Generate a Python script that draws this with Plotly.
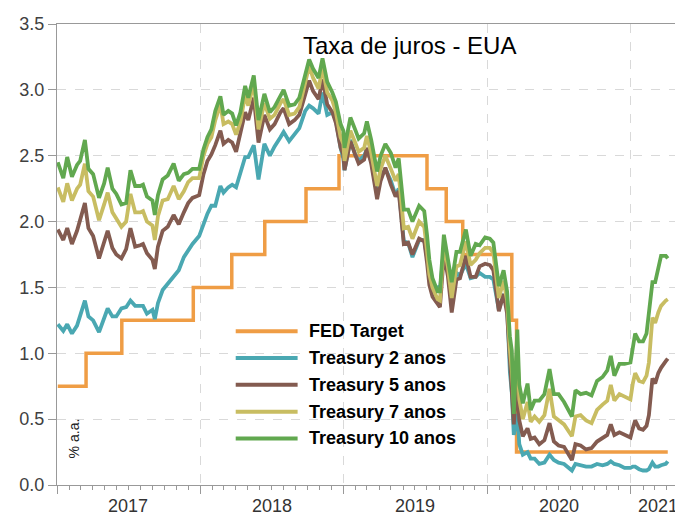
import plotly.graph_objects as go

# ---------------- data ----------------
dates = [
    "2017-01-03","2017-01-17","2017-01-27","2017-02-08","2017-02-21","2017-03-01","2017-03-13","2017-03-22",
    "2017-04-03","2017-04-18","2017-05-01","2017-05-10","2017-05-22","2017-06-01","2017-06-14","2017-06-26",
    "2017-07-07","2017-07-19","2017-08-01","2017-08-08","2017-08-18","2017-09-01","2017-09-07","2017-09-15",
    "2017-09-27","2017-10-10","2017-10-25","2017-11-07","2017-11-20","2017-12-01","2017-12-12","2017-12-29",
    "2018-01-09","2018-01-19","2018-01-29","2018-02-08","2018-02-21","2018-03-01","2018-03-13","2018-03-23",
    "2018-04-02","2018-04-13","2018-04-25","2018-05-03","2018-05-17","2018-05-29","2018-06-13","2018-06-27",
    "2018-07-09","2018-07-24","2018-08-01","2018-08-15","2018-08-29","2018-09-10","2018-09-25","2018-10-05",
    "2018-10-15","2018-10-29","2018-11-08","2018-11-20","2018-12-03","2018-12-12","2018-12-24","2018-12-31",
    "2019-01-03","2019-01-18","2019-01-30","2019-02-08","2019-02-22","2019-03-01","2019-03-12","2019-03-27",
    "2019-04-05","2019-04-17","2019-05-01","2019-05-13","2019-05-21","2019-06-03","2019-06-14","2019-06-25",
    "2019-07-12","2019-07-25","2019-08-01","2019-08-07","2019-08-15","2019-08-28","2019-09-03","2019-09-13",
    "2019-09-23","2019-10-03","2019-10-15","2019-10-24","2019-11-08","2019-11-20","2019-12-03","2019-12-13",
    "2019-12-27",
    "2020-01-08","2020-01-17","2020-01-31","2020-02-12","2020-02-21","2020-02-28","2020-03-04","2020-03-09",
    "2020-03-18","2020-03-23","2020-04-01","2020-04-13","2020-04-21","2020-05-01","2020-05-13","2020-05-26",
    "2020-06-08","2020-06-19","2020-07-01","2020-07-15","2020-08-04","2020-08-13","2020-08-26","2020-09-09",
    "2020-09-23","2020-10-07","2020-10-21","2020-11-02","2020-11-11","2020-11-20","2020-12-03","2020-12-16",
    "2020-12-31",
    "2021-01-06","2021-01-12","2021-01-22","2021-02-01","2021-02-10","2021-02-16","2021-02-25","2021-03-04",
    "2021-03-12","2021-03-19","2021-03-31","2021-04-05",
]

treasury_2y = [
    1.22,1.17,1.22,1.15,1.21,1.29,1.40,1.28, 1.25,1.16,1.28,1.34,1.28,1.28,1.34,1.35,
    1.40,1.36,1.36,1.36,1.30,1.33,1.26,1.38, 1.48,1.53,1.59,1.63,1.73,1.78,1.83,1.89,
    1.98,2.06,2.12,2.12,2.27,2.22,2.26,2.28, 2.26,2.36,2.49,2.49,2.58,2.32,2.59,2.50,
    2.57,2.64,2.68,2.61,2.67,2.71,2.84,2.88, 2.86,2.82,2.98,2.81,2.83,2.77,2.56,2.48,
    2.39,2.62,2.51,2.46,2.50,2.55,2.46,2.21, 2.34,2.40,2.31,2.20,2.25,1.85,1.84,1.73,
    1.86,1.86,1.73,1.59,1.48,1.50,1.47,1.80, 1.68,1.39,1.61,1.59,1.68,1.57,1.58,1.61,
    1.58,
    1.58,1.56,1.33,1.45,1.35,0.86,0.70,0.38, 0.54,0.31,0.23,0.25,0.20,0.20,0.16,0.17,
    0.23,0.19,0.17,0.16,0.11,0.16,0.15,0.14, 0.14,0.16,0.15,0.16,0.18,0.16,0.15,0.13,
    0.13,
    0.14,0.14,0.12,0.11,0.11,0.12,0.17,0.14, 0.14,0.15,0.16,0.18,
]

treasury_5y = [
    1.94,1.86,1.95,1.83,1.93,2.02,2.14,1.95, 1.89,1.72,1.85,1.93,1.80,1.75,1.72,1.79,
    1.95,1.81,1.82,1.83,1.76,1.71,1.64,1.81, 1.93,1.96,2.05,1.98,2.07,2.14,2.18,2.20,
    2.36,2.46,2.51,2.58,2.69,2.59,2.62,2.60, 2.53,2.66,2.83,2.77,2.94,2.60,2.81,2.70,
    2.74,2.83,2.86,2.74,2.77,2.81,2.97,3.07, 2.99,2.93,3.08,2.89,2.83,2.75,2.56,2.51,
    2.39,2.61,2.51,2.44,2.47,2.56,2.44,2.17, 2.31,2.41,2.28,2.19,2.23,1.83,1.84,1.75,
    1.87,1.85,1.69,1.52,1.43,1.37,1.35,1.75, 1.59,1.31,1.56,1.57,1.74,1.58,1.58,1.66,
    1.68,
    1.67,1.63,1.32,1.45,1.30,0.89,0.71,0.46, 0.79,0.49,0.37,0.43,0.35,0.36,0.31,0.34,
    0.47,0.33,0.30,0.29,0.19,0.31,0.30,0.27, 0.28,0.33,0.36,0.38,0.46,0.38,0.40,0.38,
    0.36,
    0.43,0.49,0.43,0.42,0.45,0.53,0.81,0.77, 0.85,0.89,0.94,0.96,
]

treasury_7y = [
    2.26,2.15,2.29,2.16,2.25,2.28,2.44,2.23, 2.19,2.01,2.13,2.22,2.07,2.02,1.96,2.00,
    2.21,2.07,2.07,2.08,2.00,1.97,1.86,2.04, 2.16,2.17,2.27,2.17,2.23,2.30,2.33,2.33,
    2.50,2.59,2.64,2.77,2.89,2.74,2.76,2.74, 2.66,2.76,2.96,2.88,3.05,2.70,2.90,2.78,
    2.81,2.90,2.93,2.81,2.82,2.87,3.04,3.18, 3.09,3.01,3.17,2.98,2.92,2.83,2.64,2.59,
    2.46,2.69,2.60,2.53,2.56,2.65,2.52,2.27, 2.40,2.50,2.40,2.31,2.36,1.95,1.96,1.87,
    2.00,1.96,1.78,1.60,1.50,1.41,1.40,1.83, 1.66,1.42,1.66,1.67,1.85,1.67,1.71,1.76,
    1.80,
    1.80,1.76,1.42,1.55,1.40,1.03,0.87,0.62, 1.05,0.65,0.50,0.63,0.48,0.52,0.48,0.53,
    0.73,0.52,0.49,0.46,0.37,0.52,0.53,0.49, 0.47,0.57,0.61,0.64,0.76,0.64,0.69,0.67,
    0.65,
    0.77,0.85,0.79,0.78,0.83,0.93,1.27,1.23, 1.31,1.36,1.40,1.41,
]

treasury_10y = [
    2.45,2.33,2.49,2.34,2.43,2.46,2.62,2.40, 2.36,2.18,2.29,2.41,2.25,2.21,2.13,2.14,
    2.39,2.27,2.27,2.28,2.19,2.16,2.05,2.20, 2.32,2.35,2.44,2.31,2.36,2.37,2.40,2.40,
    2.55,2.64,2.70,2.84,2.95,2.81,2.84,2.82, 2.73,2.83,3.03,2.94,3.11,2.77,2.97,2.83,
    2.87,2.95,3.00,2.88,2.89,2.94,3.10,3.23, 3.16,3.09,3.24,3.06,2.98,2.91,2.74,2.69,
    2.56,2.79,2.70,2.63,2.67,2.76,2.62,2.38, 2.50,2.59,2.52,2.41,2.48,2.09,2.09,2.00,
    2.12,2.08,1.90,1.71,1.57,1.47,1.47,1.90, 1.72,1.54,1.77,1.77,1.94,1.74,1.83,1.82,
    1.88,
    1.87,1.84,1.51,1.63,1.47,1.13,1.02,0.54, 1.18,0.76,0.62,0.77,0.57,0.64,0.64,0.69,
    0.88,0.69,0.69,0.63,0.52,0.72,0.69,0.70, 0.68,0.79,0.82,0.87,0.98,0.83,0.92,0.92,
    0.93,
    1.04,1.15,1.09,1.09,1.15,1.30,1.54,1.54, 1.64,1.74,1.74,1.72,
]

fed_dates = [
    "2017-01-03","2017-03-16","2017-06-15","2017-12-14","2018-03-22","2018-06-14","2018-09-27",
    "2018-12-20","2019-08-01","2019-09-19","2019-10-31","2020-03-04","2020-03-16","2021-04-05",
]
fed_target = [0.75, 1.00, 1.25, 1.50, 1.75, 2.00, 2.25, 2.50, 2.25, 2.00, 1.75, 1.25, 0.25, 0.25]

year_labels = ["2017", "2018", "2019", "2020", "2021"]
year_label_pos = ["2017-07-01", "2018-07-02", "2019-07-02", "2020-07-01", "2021-03-12"]

series_names = ["FED Target", "Treasury 2 anos", "Treasury 5 anos", "Treasury 7 anos", "Treasury 10 anos"]
colors = ["#EF9D45", "#4AA8B2", "#835B50", "#C8BD62", "#61A84F"]

# ---------------- figure ----------------
fig = go.Figure()
fig.add_trace(go.Scatter(x=fed_dates, y=fed_target, mode="lines", line_shape="hv",
                         line=dict(color=colors[0], width=3.5), name=series_names[0], showlegend=False))
for name, vals, col in zip(series_names[1:], [treasury_2y, treasury_5y, treasury_7y, treasury_10y], colors[1:]):
    fig.add_trace(go.Scatter(x=dates, y=vals, mode="lines", line=dict(color=col, width=3.8),
                             name=name, showlegend=False))

# page has an 8px body margin: figure origin sits at (8, 8) in the window
OFF = 8
W, H = 683 - OFF, 519 - OFF
L, R, T, B = 57 - OFF, 6 - OFF + OFF, 20 - OFF, 34
pw, ph = W - L - R, H - T - B

def px(xp):
    return (xp - OFF - L) / pw

def py(yp):
    return (T + ph - (yp - OFF)) / ph

FONT = "Liberation Sans, Arial"

# custom legend (long line samples, as in the reference)
leg_rows = [330, 357, 384, 411, 438]
shapes = []
annotations = []
for name, col, yr in zip(series_names, colors, leg_rows):
    shapes.append(dict(type="line", xref="paper", yref="paper", x0=px(236), x1=px(298),
                       y0=py(yr), y1=py(yr), line=dict(color=col, width=4)))
    annotations.append(dict(xref="paper", yref="paper", x=px(307), y=py(yr), xanchor="left",
                            yanchor="middle", showarrow=False, text="<b>" + name + "</b>",
                            font=dict(family=FONT, size=18, color="#000000")))

# title inside plot
annotations.append(dict(xref="paper", yref="paper", x=px(410), y=py(42), xanchor="center",
                        yanchor="middle", showarrow=False, text="Taxa de juros - EUA",
                        font=dict(family=FONT, size=24, color="#000000")))
# unit label
annotations.append(dict(xref="paper", yref="paper", x=px(74), y=py(438), xanchor="center",
                        yanchor="middle", showarrow=False, text="% a.a.", textangle=-90,
                        font=dict(family=FONT, size=14, color="#222222")))
# year labels centered on year periods
for lab, pos in zip(year_labels, year_label_pos):
    annotations.append(dict(xref="x", yref="paper", x=pos, y=py(506), xanchor="center",
                            yanchor="middle", showarrow=False, text=lab,
                            font=dict(family=FONT, size=18, color="#333333")))

fig.update_layout(
    width=W, height=H,
    margin=dict(l=L, r=R, t=T, b=B),
    paper_bgcolor="white", plot_bgcolor="white",
    shapes=shapes, annotations=annotations,
    showlegend=False,
)
fig.update_xaxes(
    type="date", range=["2017-01-01", "2021-04-26"],
    tickmode="linear", tick0="2017-01-01", dtick="M12",
    showticklabels=False, ticks="outside", ticklen=8, tickcolor="#999999",
    showgrid=True, gridcolor="#d9d9d9", griddash="dash", gridwidth=1,
    showline=True, linecolor="#999999", linewidth=1, mirror=True, zeroline=False,
    minor=dict(ticks="outside", ticklen=4, tickcolor="#999999", dtick="M1",
               tick0="2017-01-01", showgrid=False),
)
fig.update_yaxes(
    range=[0, 3.5], tickmode="linear", tick0=0, dtick=0.5, tickformat=".1f",
    ticks="outside", ticklen=8, tickcolor="#999999",
    tickfont=dict(family=FONT, size=18, color="#404040"),
    showgrid=True, gridcolor="#d9d9d9", griddash="dash", gridwidth=1,
    showline=True, linecolor="#999999", linewidth=1, mirror=True, zeroline=False,
)

fig.write_html("out.html")
